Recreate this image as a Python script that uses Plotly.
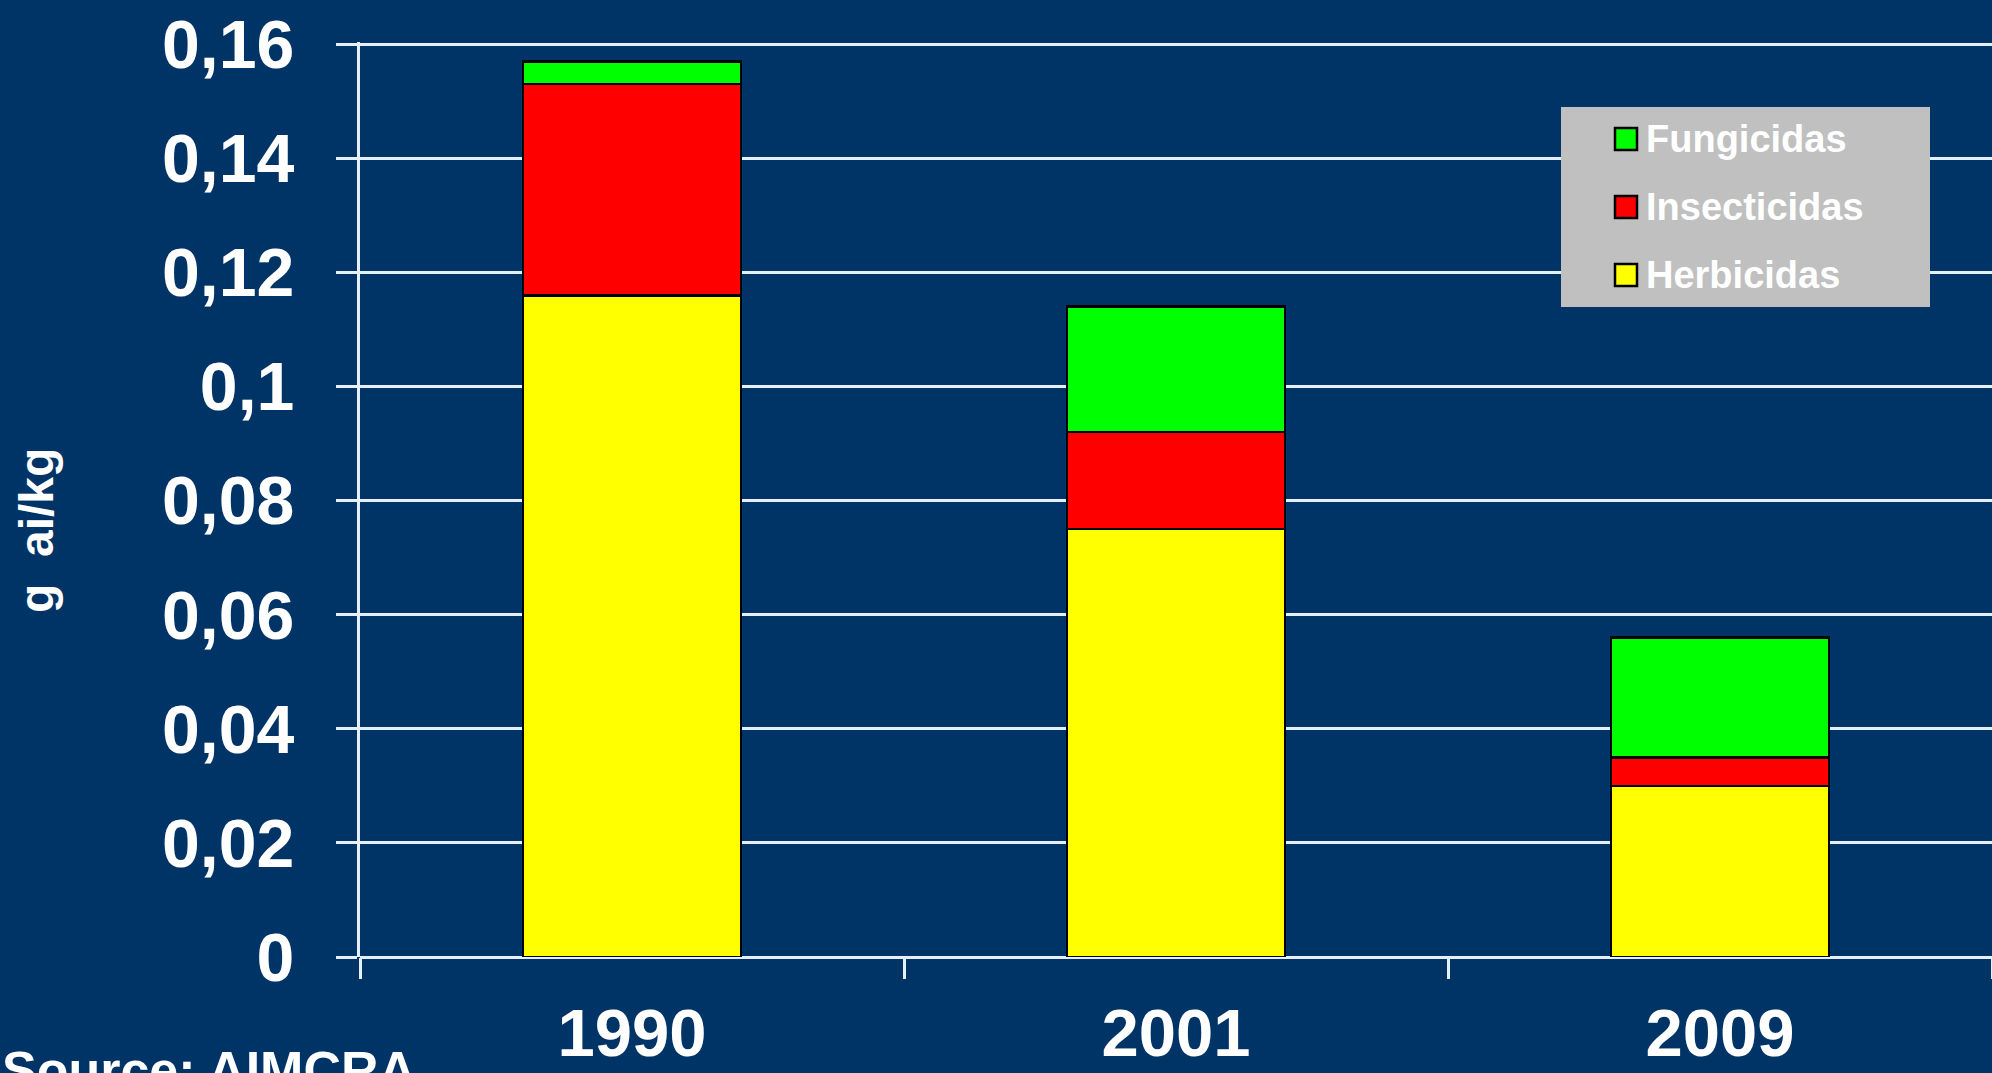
import plotly.graph_objects as go

# Pesticide use per kg, stacked by type
years = ["1990", "2001", "2009"]
herbicidas = [0.116, 0.075, 0.030]
insecticidas = [0.037, 0.017, 0.005]
fungicidas = [0.004, 0.022, 0.021]

series_names = ["Herbicidas", "Insecticidas", "Fungicidas"]
series_values = [herbicidas, insecticidas, fungicidas]
series_colors = ["#FFFF00", "#FF0000", "#00FF00"]

y_ticks = [0, 0.02, 0.04, 0.06, 0.08, 0.1, 0.12, 0.14, 0.16]
y_tick_labels = ["0", "0,02", "0,04", "0,06", "0,08", "0,1", "0,12", "0,14", "0,16"]

BG = "#003366"
GRID = "#E4F0FC"
FONT = "Liberation Sans"

fig = go.Figure()
for name, vals, col in zip(series_names, series_values, series_colors):
    fig.add_trace(go.Bar(
        x=years, y=vals, name=name,
        marker=dict(color=col, line=dict(color="black", width=2.5)),
        showlegend=False,
    ))

fig.update_layout(
    width=1992, height=1073,
    autosize=False,
    barmode="stack",
    bargap=0.6,
    paper_bgcolor=BG,
    plot_bgcolor=BG,
    margin=dict(l=360, r=0, t=42, b=116, pad=0),
    font=dict(family=FONT, color="white"),
)

fig.update_xaxes(
    type="category",
    range=[-0.5, 2.5],
    automargin=False,
    showgrid=False,
    showline=False,
    zeroline=False,
    ticks="outside",
    tickson="boundaries",
    ticklen=21,
    tickwidth=3,
    tickcolor=GRID,
    tickfont=dict(family=FONT, size=67, color="white", weight="bold"),
    ticklabelstandoff=31,
)

fig.update_yaxes(
    range=[0, 0.1604],
    automargin=False,
    tickvals=y_ticks,
    ticktext=y_tick_labels,
    showgrid=True,
    gridcolor=GRID,
    gridwidth=3,
    zeroline=True,
    zerolinecolor=GRID,
    zerolinewidth=3,
    showline=True,
    linecolor=GRID,
    linewidth=3,
    ticks="outside",
    ticklen=21,
    tickwidth=3,
    tickcolor=GRID,
    tickfont=dict(family=FONT, size=68, color="white", weight="bold"),
    ticklabelstandoff=28,
)

# Plot-area pixel geometry, used to place the legend box and side texts
PL, PR, PT, PB = 360, 1992, 42, 957


def px(xp):
    return (xp - PL) / (PR - PL)


def py(yp):
    return (PB - yp) / (PB - PT)


shapes = []
annotations = []

# Legend panel
shapes.append(dict(type="rect", xref="paper", yref="paper",
                   x0=px(1561), x1=px(1930), y0=py(307), y1=py(107),
                   fillcolor="#C0C0C0", line=dict(width=0), layer="above"))

legend_rows = [139, 207, 275]
for row_y, name, col in zip(legend_rows, series_names[::-1], series_colors[::-1]):
    shapes.append(dict(type="rect", xref="paper", yref="paper",
                       x0=px(1615), x1=px(1637), y0=py(row_y + 11), y1=py(row_y - 11),
                       fillcolor=col, line=dict(color="black", width=2.5), layer="above"))
    annotations.append(dict(xref="paper", yref="paper", x=px(1644), y=py(row_y),
                            xanchor="left", yanchor="middle", showarrow=False,
                            text=name,
                            font=dict(family=FONT, size=38, color="white", weight="bold")))

# Axis title
annotations.append(dict(xref="paper", yref="paper", x=px(36), y=py(531),
                        xanchor="center", yanchor="middle", showarrow=False,
                        text="g  ai/kg", textangle=-90,
                        font=dict(family=FONT, size=48, color="white", weight="bold")))

# Source note
annotations.append(dict(xref="paper", yref="paper", x=px(0), y=py(1039),
                        xanchor="left", yanchor="top", showarrow=False,
                        text="Source: AIMCRA",
                        font=dict(family=FONT, size=52, color="white", weight="bold")))

fig.update_layout(shapes=shapes, annotations=annotations)

fig.write_html("out.html")
